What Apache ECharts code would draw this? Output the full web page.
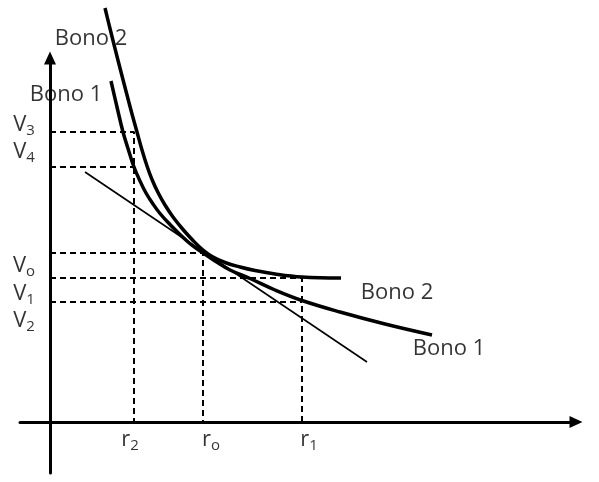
<!DOCTYPE html>
<html>
<head>
<meta charset="utf-8">
<script src="https://cdn.jsdelivr.net/npm/echarts@6/dist/echarts.min.js"></script>
<style>
  html, body { margin: 0; padding: 0; background: #fff; }
  #chart { width: 599px; height: 482px; }
</style>
</head>
<body>
<div id="chart"></div>
<script>
// rates on the x axis
const r2 = 8.4, r0 = 15.3, r1 = 25.2
// prices on the y axis
const V3 = 29.0, V4 = 25.5, V0 = 16.9, V1 = 14.4, V2 = 12.0

// the two price-yield curves
const bono1X = [6.1, 6.7, 7.3, 7.8, 8.4, 9.0, 9.6, 10.3, 11.0, 12.0, 13.0, 14.1, 15.3, 16.5, 18.0, 20.0, 22.5, 25.2, 29.0, 33.5, 38.2]
const bono1Y = [34.1, 31.5, 29.0, 27.35, 25.5, 24.1, 22.9, 21.8, 20.85, 19.75, 18.75, 17.75, 16.9, 16.1, 15.2, 14.35, 13.2, 12.15, 11.0, 9.8, 8.7]
const bono2X = [5.5, 6.0, 6.5, 7.1, 7.7, 8.2, 8.7, 9.2, 9.7, 10.2, 10.8, 11.5, 12.3, 13.3, 14.3, 15.3, 16.3, 17.5, 19.0, 20.5, 22.5, 25.2, 29.1]
const bono2Y = [41.4, 39.35, 37.35, 35.0, 32.7, 30.8, 29.0, 27.2, 25.6, 24.25, 22.95, 21.7, 20.5, 19.25, 18.15, 17.2, 16.5, 15.95, 15.5, 15.15, 14.8, 14.5, 14.4]
// tangent (duration line) through (r0, V0)
const tangentX = [3.5, 31.7]
const tangentY = [25.0, 6.0]

// text labels and where they sit
const labelText = ['{m|V}{s|3}', '{m|V}{s|4}', '{m|V}{s|o}', '{m|V}{s|1}', '{m|V}{s|2}',
  '{m|r}{s|2}', '{m|r}{s|o}', '{m|r}{s|1}', 'Bono 2', 'Bono 1', 'Bono 2', 'Bono 1']
const labelX = [-2.6, -2.6, -2.6, -2.6, -2.6, 8.0, 16.1, 25.9, 4.1, 1.6, 34.7, 39.9]
const labelY = [29.7, 27.0, 15.6, 12.8, 10.1, -1.8, -1.8, -1.8, 38.3, 32.7, 12.9, 7.3]

const zip = (xs, ys) => xs.map((x, i) => [x, ys[i]])

const dashed = [
  [[0, V3], [r2, V3], [r2, 0]],
  [[0, V4], [r2, V4]],
  [[0, V0], [r0, V0], [r0, 0]],
  [[0, V1], [r1, V1], [r1, 0]],
  [[0, V2], [r1, V2]]
]

const chart = echarts.init(document.getElementById('chart'))

const axisCommon = {
  type: 'value',
  axisLine: {
    show: true,
    onZero: true,
    symbol: ['none', 'triangle'],
    symbolSize: [12, 13],
    lineStyle: { color: '#000', width: 3 }
  },
  axisTick: { show: false },
  axisLabel: { show: false },
  splitLine: { show: false }
}

const series = []
dashed.forEach(path => {
  series.push({
    type: 'line',
    data: path,
    symbol: 'none',
    silent: true,
    lineStyle: { color: '#000', width: 2, type: [6, 4] }
  })
})
series.push({
  type: 'line', data: zip(tangentX, tangentY), symbol: 'none', clip: false,
  lineStyle: { color: '#000', width: 1.6 }
})
series.push({
  type: 'line', data: zip(bono1X, bono1Y), symbol: 'none', smooth: 0.4, clip: false,
  lineStyle: { color: '#000', width: 3.5, join: 'round' }
})
series.push({
  type: 'line', data: zip(bono2X, bono2Y), symbol: 'none', smooth: 0.4, clip: false,
  lineStyle: { color: '#000', width: 3.5, join: 'round' }
})
series.push({
  type: 'scatter',
  symbolSize: 0,
  clip: false,
  data: labelText.map((t, i) => ({ value: [labelX[i], labelY[i]], name: t })),
  label: {
    show: true,
    position: 'inside',
    formatter: p => p.name,
    color: '#000',
    fontFamily: 'Open Sans',
    fontSize: 22,
    rich: {
      m: { fontFamily: 'Open Sans', fontSize: 22, color: '#000', lineHeight: 26 },
      s: { fontFamily: 'Open Sans', fontSize: 15, color: '#000', verticalAlign: 'bottom', lineHeight: 18, padding: [8, 0, 0, 0] }
    }
  }
})

chart.setOption({
  animation: false,
  backgroundColor: '#fff',
  grid: { left: 20, right: 23, top: 58, bottom: 9 },
  xAxis: Object.assign({ min: -3, max: 52.6 }, axisCommon),
  yAxis: Object.assign({ min: -5.1, max: 36.4 }, axisCommon),
  series: series
})
</script>
</body>
</html>
